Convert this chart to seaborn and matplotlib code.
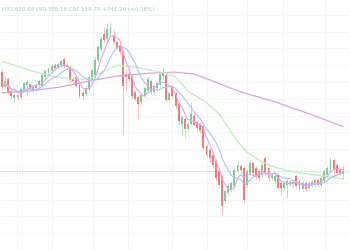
import numpy as np
import pandas as pd
import matplotlib
matplotlib.use("Agg")
import matplotlib.pyplot as plt
import seaborn as sns

# ---- OHLC data ----
opens = [101100, 99600, 100400, 99200, 98500, 98800, 98600, 99300, 99800, 99900,
         99300, 99500, 99800, 99700, 100600, 101000, 101200, 101800, 101600, 101800,
         102400, 101800, 101600, 100400, 100600, 99800, 99000, 98900, 99400, 100200,
         100800, 102300, 103400, 105000, 104500, 105100, 104900, 104200, 103700, 103100,
         100900, 100900, 100600, 99100, 98600, 98100, 98700, 99200, 100200, 99100,
         99500, 99800, 101100, 100800, 98300, 99600, 99000, 97900, 95900, 96400,
         95300, 95900, 96700, 96100, 95900, 95600, 93600, 93200, 92700, 92100,
         91100, 90600, 88100, 88900, 89200, 89600, 91100, 91600, 91400, 89700,
         90900, 91900, 91400, 91100, 90700, 92400, 91400, 90400, 90100, 90700,
         89900, 89400, 89700, 89800, 90000, 90600, 90100, 89300, 89900, 89400,
         89700, 89700, 90200, 89700, 90100, 90700, 91200, 92200, 91700, 91200,
         90780]
highs = [101400, 100600, 100600, 99400, 99000, 98900, 99600, 100200, 100400, 100000,
         99800, 100000, 100400, 101000, 101400, 101600, 101900, 102000, 102100, 102400,
         102600, 102000, 101800, 100600, 100800, 100000, 99200, 99800, 100800, 101500,
         102600, 103800, 104800, 105700, 106100, 106200, 105400, 104400, 103900, 103400,
         101400, 101100, 100800, 99300, 98800, 99000, 99700, 100700, 100400, 99900,
         100200, 101100, 101600, 101000, 99200, 99800, 99200, 98100, 96800, 96600,
         96100, 98100, 97000, 96300, 96100, 95800, 93800, 93400, 92900, 92300,
         91300, 90800, 89300, 89800, 90100, 91400, 92100, 91800, 91600, 91300,
         92100, 92100, 91600, 91400, 91900, 92600, 91600, 90900, 90800, 90900,
         90100, 90100, 90300, 90200, 90200, 90800, 90300, 90100, 90100, 90100,
         90200, 90400, 90400, 90600, 91300, 91600, 92500, 92400, 91900, 91400,
         91620.68]
lows = [99400, 99400, 98900, 98400, 98100, 98300, 98400, 99100, 98800, 99200,
        99100, 99300, 99600, 99500, 100400, 100800, 101000, 101300, 101400, 101600,
        101500, 101400, 100100, 99900, 99600, 98500, 98400, 98700, 99200, 100100,
        100600, 102100, 103200, 104100, 104300, 104600, 103900, 103400, 102900, 94700,
        99200, 100200, 98500, 98200, 96400, 97800, 98500, 99000, 98900, 98900,
        99300, 99600, 100500, 98100, 98100, 98500, 97500, 95900, 94600, 94400,
        95100, 95700, 95600, 95200, 94900, 93200, 92500, 91900, 91400, 90100,
        89400, 86700, 87900, 88700, 89000, 89400, 90900, 90900, 87900, 89500,
        90700, 90700, 90300, 90100, 90500, 90600, 90100, 90200, 89900, 89200,
        88700, 89200, 88400, 89600, 89500, 89400, 89100, 89100, 89100, 89200,
        89500, 89500, 89500, 89500, 89900, 90500, 91000, 90400, 90600, 90700,
        90308.16]
closes = [99600, 100200, 99100, 98700, 98800, 98600, 99400, 100000, 100100, 99400,
          99600, 99800, 100200, 100800, 101200, 101400, 101700, 101500, 101900, 102200,
          101700, 101600, 100300, 100200, 99700, 98700, 98700, 99500, 100600, 101300,
          102300, 103600, 104500, 104400, 105500, 105600, 104100, 103500, 103100, 99700,
          100600, 100400, 98700, 98400, 97900, 98800, 99500, 100400, 99100, 99700,
          100000, 100900, 100700, 98300, 99000, 98700, 97700, 96200, 96600, 95300,
          95900, 96900, 95800, 95400, 95200, 93400, 92700, 92400, 91700, 90400,
          89700, 87600, 89100, 89600, 89900, 91200, 91700, 91200, 88200, 91100,
          91900, 90900, 90600, 90400, 91700, 90900, 90400, 90700, 90600, 89400,
          89400, 89900, 90100, 90000, 89800, 89600, 89300, 89900, 89300, 89900,
          90000, 90200, 89700, 90400, 91100, 91400, 92200, 91200, 90900, 90778.53,
          91119.73]

# ---- slow moving averages (at sample candles) ----
ma_green_idx = [0, 6, 11, 16, 22, 28, 33, 37, 43, 48, 53, 56, 60, 63, 66, 70, 73,
                76, 79, 83, 86, 91, 96, 103, 110]
ma_green_val = [102200, 101600, 101100, 100700, 100400, 100400, 101200, 101800,
                101600, 101300, 101000, 100600, 99200, 98600, 98000, 96900, 95500,
                94100, 93000, 92200, 91700, 91200, 90900, 90600, 90300]
ma_purple_idx = [0, 9, 19, 28, 37, 48, 56, 62, 68, 77, 88, 99, 110]
ma_purple_val = [99000, 99200, 99600, 100200, 100700, 101000, 101100, 100900,
                 100200, 99100, 98100, 96900, 95600]

header = "H91,620.68 L90,308.16 C91,119.73 +341.20 (+0.38%)"

df = pd.DataFrame({"open": opens, "high": highs, "low": lows, "close": closes})
df["i"] = np.arange(len(df))
df["ma_fast"] = df["close"].rolling(5, min_periods=1).mean()
df["ma_mid"] = df["close"].rolling(10, min_periods=1).mean()
green_df = pd.DataFrame({"i": ma_green_idx, "v": ma_green_val})
purple_df = pd.DataFrame({"i": ma_purple_idx, "v": ma_purple_val})

sns.set_theme(style="white")
fig = plt.figure(figsize=(3.5, 2.5), dpi=100)
ax = fig.add_axes([0, 0, 1, 1])

up = df["close"] >= df["open"]
body_up, body_dn = "#7fca98", "#ea7f7c"
wick_up, wick_dn = "#b6e1c3", "#f4bdbb"

ax.vlines(df["i"][up], df["low"][up], df["high"][up], color=wick_up, lw=0.7, zorder=2)
ax.vlines(df["i"][~up], df["low"][~up], df["high"][~up], color=wick_dn, lw=0.7, zorder=2)
bottoms = np.minimum(df["open"], df["close"])
heights = np.maximum(np.abs(df["close"] - df["open"]), 60)
ax.bar(df["i"][up], heights[up], bottom=bottoms[up], width=0.62, color=body_up,
       linewidth=0, zorder=3)
ax.bar(df["i"][~up], heights[~up], bottom=bottoms[~up], width=0.62, color=body_dn,
       linewidth=0, zorder=3)

sns.lineplot(data=purple_df, x="i", y="v", ax=ax, color="#d7a6d9", lw=0.9, zorder=4)
sns.lineplot(data=green_df, x="i", y="v", ax=ax, color="#c2ebc2", lw=0.9, zorder=4)
sns.lineplot(data=df, x="i", y="ma_mid", ax=ax, color="#abc2f6", lw=0.8, zorder=5)
sns.lineplot(data=df, x="i", y="ma_fast", ax=ax, color="#eaa2e6", lw=0.8, zorder=5)

ax.axhline(closes[-1], color="#a9dcd4", lw=0.8, ls=(0, (1.2, 1.2)), zorder=1)

ax.set_xlim(-0.65, 112.3)
ax.set_ylim(83400, 108400)
ax.set_yticks(np.arange(106900, 83000, -1700))
ax.set_xticks([4.8, 16.1, 29.4, 40.6, 54.8, 66.1, 79.0, 90.6, 104.2])
ax.grid(True, color="#f4f4f6", lw=0.7, zorder=0)
ax.set_axisbelow(True)
ax.tick_params(length=0, labelbottom=False, labelleft=False)
ax.set_xlabel("")
ax.set_ylabel("")
for s in ax.spines.values():
    s.set_visible(False)

ax.text(0.006, 0.963, header, transform=ax.transAxes, fontsize=4.0,
        color="#a3cbb3", ha="left", va="center", family="DejaVu Sans")

fig.savefig("out.png", dpi=100)
